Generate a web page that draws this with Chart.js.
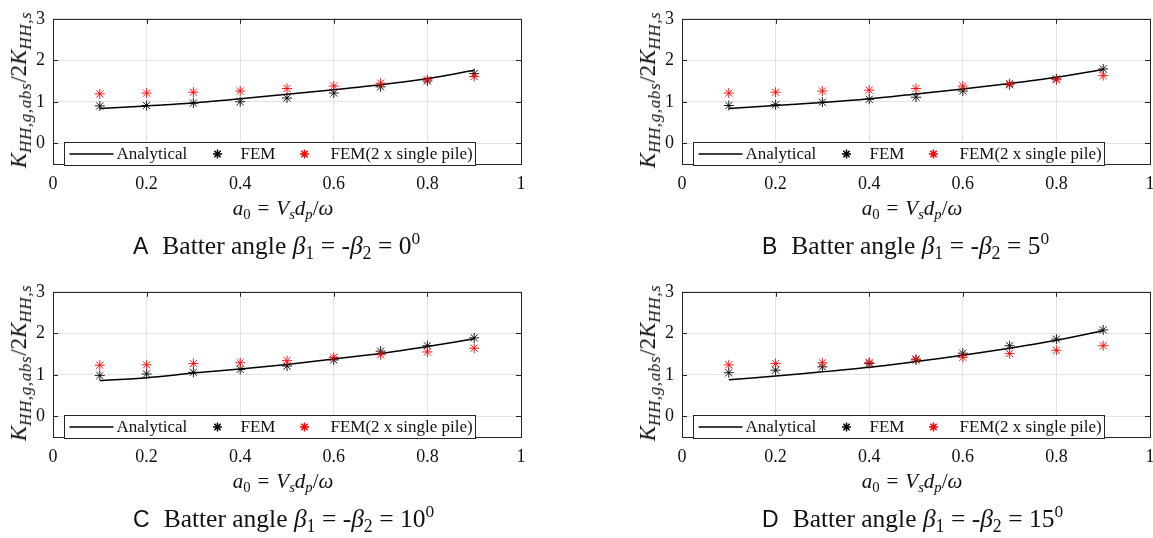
<!DOCTYPE html>
<html>
<head>
<meta charset="utf-8">
<script src="https://cdn.jsdelivr.net/npm/chart.js@4/dist/chart.umd.min.js"></script>
<style>
  body { margin: 0; background: #fff; }
  #wrap { position: relative; width: 1153px; height: 538px; overflow: hidden; background: #fff; }
  canvas { position: absolute; }
  .xt, .yt, .cap { position: absolute; font-family: "Liberation Serif", "Times New Roman", serif; color: #111; white-space: nowrap; }
  .xt { font-size: 21px; transform: translateX(-50%); line-height: 22px; }
  .xt .eq { margin: 0 7px; font-style: normal; }
  .yt { font-size: 23px; line-height: 24px; transform: translate(-50%, -50%) rotate(-90deg); }
  .yt sub { font-size: 74%; letter-spacing: 0.6px; }
  .xt sub, .yt sub, .cap sub { vertical-align: -0.3em; line-height: 0; }
  .xt sub, .cap sub { font-size: 70%; }
  .cap sup { font-size: 68%; vertical-align: 0.55em; line-height: 0; }
  .cap { font-size: 25.5px; line-height: 28px; }
  .cap .tag { font-family: "Liberation Sans", Arial, sans-serif; font-size: 23px; margin-right: 14px; }
</style>
</head>
<body>
<div id="wrap"></div>
<script>
// frequency axis
const a0 = [0.1, 0.2, 0.3, 0.4, 0.5, 0.6, 0.7, 0.8, 0.9];
const xTicks = [0, 0.2, 0.4, 0.6, 0.8, 1];
const yTicks = [0, 1, 2, 3];

// batter angle 0
const analyticalA = [0.84, 0.90, 0.97, 1.07, 1.18, 1.29, 1.41, 1.56, 1.76];
const femA = [0.90, 0.91, 0.97, 1.00, 1.09, 1.21, 1.36, 1.50, 1.68];
const femSingleA = [1.19, 1.21, 1.23, 1.26, 1.32, 1.38, 1.45, 1.53, 1.61];

// batter angle 5
const analyticalB = [0.84, 0.91, 0.98, 1.07, 1.19, 1.31, 1.44, 1.59, 1.78];
const femB = [0.91, 0.93, 0.99, 1.06, 1.11, 1.26, 1.41, 1.55, 1.79];
const femSingleB = [1.21, 1.23, 1.26, 1.28, 1.32, 1.38, 1.44, 1.53, 1.63];

// batter angle 10
const analyticalC = [0.86, 0.93, 1.04, 1.14, 1.25, 1.38, 1.51, 1.68, 1.87];
const femC = [0.98, 1.02, 1.06, 1.13, 1.21, 1.36, 1.57, 1.70, 1.89];
const femSingleC = [1.23, 1.24, 1.27, 1.29, 1.34, 1.42, 1.48, 1.55, 1.64];

// batter angle 15
const analyticalD = [0.88, 0.97, 1.07, 1.18, 1.32, 1.47, 1.64, 1.83, 2.06];
const femD = [1.05, 1.11, 1.19, 1.27, 1.36, 1.52, 1.70, 1.86, 2.08];
const femSingleD = [1.24, 1.27, 1.29, 1.30, 1.38, 1.42, 1.51, 1.59, 1.70];

const legendLabels = ['Analytical', 'FEM', 'FEM(2 x single pile)'];

const SERIF = '"Liberation Serif", "Times New Roman", serif';
const AXIS = '#262626';

// MATLAB-style box with inward ticks plus the in-axes legend
const boxPlugin = {
  id: 'box',
  afterDatasetsDraw(chart) {
    const { ctx, chartArea: ca, scales } = chart;
    ctx.save();
    ctx.strokeStyle = AXIS;
    ctx.lineWidth = 1;
    ctx.beginPath();
    scales.x.ticks.forEach(t => {
      const px = Math.round(scales.x.getPixelForValue(t.value)) + 0.5;
      ctx.moveTo(px, ca.bottom); ctx.lineTo(px, ca.bottom - 5);
      ctx.moveTo(px, ca.top); ctx.lineTo(px, ca.top + 5);
    });
    scales.y.ticks.forEach(t => {
      const py = Math.round(scales.y.getPixelForValue(t.value)) + 0.5;
      ctx.moveTo(ca.left, py); ctx.lineTo(ca.left + 5, py);
      ctx.moveTo(ca.right, py); ctx.lineTo(ca.right - 5, py);
    });
    ctx.stroke();
    ctx.strokeRect(Math.round(ca.left) + 0.5, Math.round(ca.top) + 0.5,
      Math.round(ca.right - ca.left), Math.round(ca.bottom - ca.top));

    // legend
    const lx = Math.round(ca.left) + 11.5, ly = Math.round(ca.top) + 123.5;
    const lw = 411, lh = 23, my = ly + lh / 2;
    ctx.fillStyle = '#fff';
    ctx.fillRect(lx, ly, lw, lh);
    ctx.strokeStyle = AXIS;
    ctx.strokeRect(lx, ly, lw, lh);
    ctx.strokeStyle = '#000';
    ctx.lineWidth = 1.5;
    ctx.beginPath(); ctx.moveTo(lx + 5, my); ctx.lineTo(lx + 49, my); ctx.stroke();
    const ds = chart.data.datasets;
    Chart.helpers.drawPoint(ctx, { pointStyle: 'star', radius: 4.5, borderWidth: 0.9 }, lx + 153, my);
    ctx.strokeStyle = ds[2].borderColor;
    Chart.helpers.drawPoint(ctx, { pointStyle: 'star', radius: 4.5, borderWidth: 0.9 }, lx + 240, my);
    ctx.fillStyle = '#111';
    ctx.font = '17px ' + SERIF;
    ctx.textBaseline = 'middle';
    ctx.fillText(legendLabels[0], lx + 52, my + 1);
    ctx.fillText(legendLabels[1], lx + 176, my + 1);
    ctx.fillText(legendLabels[2], lx + 266, my + 1);
    ctx.restore();
  }
};

const wrap = document.getElementById('wrap');

function makePanel(left, top, tag, angle, analytical, fem, femSingle) {
  const cv = document.createElement('canvas');
  cv.width = 540; cv.height = 200;
  cv.style.left = left + 'px'; cv.style.top = top + 'px';
  wrap.appendChild(cv);

  const pts = arr => a0.map((x, i) => ({ x: x, y: arr[i] }));

  new Chart(cv.getContext('2d'), {
    type: 'scatter',
    data: {
      datasets: [
        { label: legendLabels[0], data: pts(analytical), showLine: true, borderColor: '#000',
          borderWidth: 1.5, pointRadius: 0, tension: 0.3, order: 3 },
        { label: legendLabels[1], data: pts(fem), pointStyle: 'star', pointRadius: 5,
          borderColor: '#000', borderWidth: 0.9, order: 2 },
        { label: legendLabels[2], data: pts(femSingle), pointStyle: 'star', pointRadius: 5,
          borderColor: '#ff0000', borderWidth: 0.9, order: 1 }
      ]
    },
    options: {
      responsive: false,
      animation: false,
      devicePixelRatio: 1,
      layout: { padding: { left: 0, top: 9, right: 19, bottom: 0 } },
      plugins: { legend: { display: false }, tooltip: { enabled: false } },
      scales: {
        x: {
          type: 'linear', min: 0, max: 1,
          afterBuildTicks: s => { s.ticks = xTicks.map(v => ({ value: v })); },
          afterFit: s => { s.height = 36; },
          border: { display: false },
          grid: { color: '#e3e3e3', drawTicks: false },
          ticks: { color: '#111', padding: 9, maxRotation: 0, font: { family: SERIF, size: 18 },
                   callback: v => String(v) }
        },
        y: {
          type: 'linear', min: -0.5, max: 3,
          afterBuildTicks: s => { s.ticks = yTicks.map(v => ({ value: v })); },
          afterFit: s => { s.width = 53; },
          border: { display: false },
          grid: { color: '#e3e3e3', drawTicks: false },
          ticks: { color: '#111', padding: 8, font: { family: SERIF, size: 18 },
                   callback: v => String(v) }
        }
      }
    },
    plugins: [boxPlugin]
  });

  const plotLeft = left + 53, plotTop = top + 9, plotW = 468, plotH = 155;

  const xt = document.createElement('div');
  xt.className = 'xt';
  xt.style.left = (plotLeft + plotW / 2 - 4) + 'px';
  xt.style.top = (plotTop + plotH + 33) + 'px';
  xt.innerHTML = '<i>a</i><sub>0</sub><span class="eq">=</span><i>V</i><sub><i>s</i></sub><i>d</i><sub><i>p</i></sub>/<i>ω</i>';
  wrap.appendChild(xt);

  const yt = document.createElement('div');
  yt.className = 'yt';
  yt.style.left = (left + 19) + 'px';
  yt.style.top = (plotTop + 81) + 'px';
  yt.innerHTML = '<i>K</i><sub><i>HH,g,abs</i></sub>/2<i>K</i><sub><i>HH,s</i></sub>';
  wrap.appendChild(yt);

  const cap = document.createElement('div');
  cap.className = 'cap';
  cap.style.left = (plotLeft + 80) + 'px';
  cap.style.top = (plotTop + plotH + 68) + 'px';
  cap.innerHTML = '<span class="tag">' + tag + '</span>Batter angle <i>β</i><sub>1</sub> = -<i>β</i><sub>2</sub> = ' +
    angle + '<sup>0</sup>';
  wrap.appendChild(cap);
}

makePanel(0, 0, 'A', 0, analyticalA, femA, femSingleA);
makePanel(629, 0, 'B', 5, analyticalB, femB, femSingleB);
makePanel(0, 273, 'C', 10, analyticalC, femC, femSingleC);
makePanel(629, 273, 'D', 15, analyticalD, femD, femSingleD);
</script>
</body>
</html>
